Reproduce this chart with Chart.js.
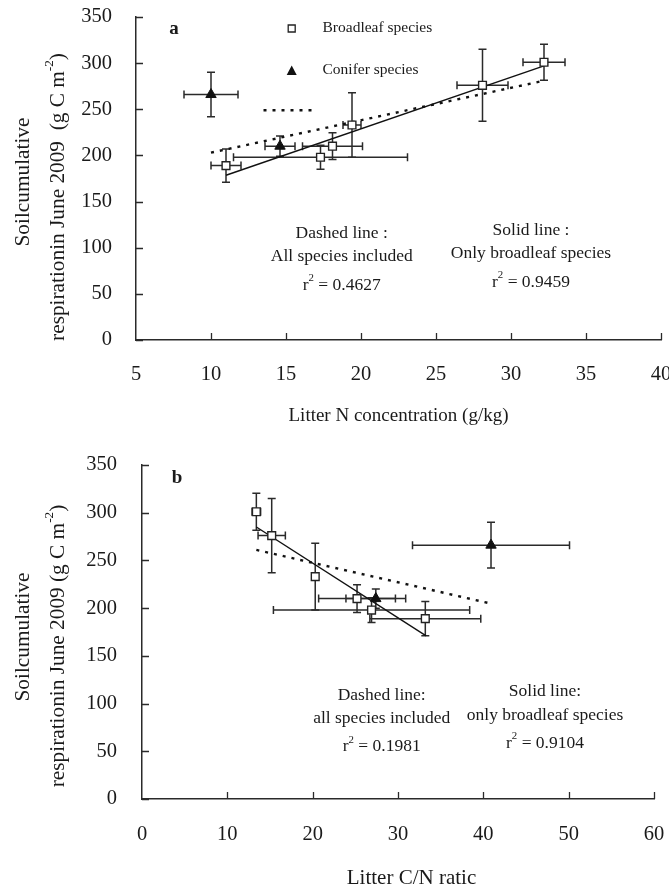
<!DOCTYPE html>
<html><head><meta charset="utf-8">
<script src="https://cdn.jsdelivr.net/npm/chart.js@4/dist/chart.umd.min.js"></script>
<style>html,body{margin:0;padding:0;background:#fff;overflow:hidden;} canvas{position:absolute;left:0;}</style>
</head><body>
<canvas id="ca" width="669" height="445" style="top:0px"></canvas>
<canvas id="cb" width="669" height="446" style="top:445px"></canvas>
<script>
// ---------- data ----------
// Broadleaf species (squares)
const broadleafResp    = [189, 198, 210, 233, 276, 301];
const broadleafRespErr = [18, 13, 14.5, 35, 39, 19.5];
const broadleafN       = [11.0, 17.3, 18.1, 19.4, 28.1, 32.2];
const broadleafNErr    = [1.0, 5.8, 2.0, 0.6, 1.7, 1.4];
const broadleafCN      = [33.2, 26.9, 25.2, 20.3, 15.2, 13.4];
const broadleafCNErr   = [6.5, 11.5, 4.5, 0.3, 1.6, 0.5];
// Conifer species (triangles)
const coniferResp      = [266, 210];
const coniferRespErr   = [24, 11];
const coniferRespErrB  = [24, 10];
const coniferN         = [10.0, 14.6];
const coniferNErr      = [1.8, 1.0];
const coniferCN        = [40.9, 27.4];
const coniferCNErr     = [9.2, 3.5];
// Regression lines (end points)
const fitAllN_x   = [10.0, 32.2];  const fitAllN_y   = [203, 281];
const fitBroadN_x = [11.0, 32.2];  const fitBroadN_y = [178.5, 297];
const strayDot_x  = [13.5, 17.0];  const strayDot_y  = [249, 249];
const fitAllCN_x   = [13.4, 40.8]; const fitAllCN_y   = [261, 205];
const fitBroadCN_x = [13.4, 33.3]; const fitBroadCN_y = [285, 171];
// Axis ticks
const xTicksA = [5, 10, 15, 20, 25, 30, 35, 40];
const xTicksB = [0, 10, 20, 30, 40, 50, 60];
const yTicks  = [0, 50, 100, 150, 200, 250, 300, 350];

// ---------- helpers ----------
const FONT = '"Liberation Serif", "Times New Roman", serif';
const INK = '#1a1a1a';
const pts = (xs, ys) => xs.map((x, i) => ({x, y: ys[i]}));

function drawRich(ctx, segs, x, y, size, align, bold) {
  const f = (s) => (bold ? 'bold ' : '') + s + 'px ' + FONT;
  let w = 0;
  segs.forEach(s => { ctx.font = f(s.sup ? size * 0.62 : size); w += ctx.measureText(s.t).width; });
  let cx = align === 'center' ? x - w / 2 : (align === 'right' ? x - w : x);
  ctx.textAlign = 'left';
  ctx.textBaseline = 'middle';
  segs.forEach(s => {
    ctx.font = f(s.sup ? size * 0.62 : size);
    ctx.fillText(s.t, cx, s.sup ? y - size * 0.38 : y);
    cx += ctx.measureText(s.t).width;
  });
}

const decorPlugin = {
  id: 'decor',
  beforeDatasetsDraw(chart, args, o) {
    const ctx = chart.ctx, xs = chart.scales.x, ys = chart.scales.y;
    ctx.save();
    ctx.strokeStyle = '#2a2a2a';
    ctx.lineWidth = 1.5;
    o.errors.forEach(g => {
      g.x.forEach((xv, i) => {
        const px = xs.getPixelForValue(xv), py = ys.getPixelForValue(g.y[i]);
        const x1 = xs.getPixelForValue(xv - g.xe[i]), x2 = xs.getPixelForValue(xv + g.xe[i]);
        const y1 = ys.getPixelForValue(g.y[i] - g.ye[i]), y2 = ys.getPixelForValue(g.y[i] + g.ye[i]);
        const c = 4;
        ctx.beginPath();
        ctx.moveTo(x1, py); ctx.lineTo(x2, py);
        ctx.moveTo(x1, py - c); ctx.lineTo(x1, py + c);
        ctx.moveTo(x2, py - c); ctx.lineTo(x2, py + c);
        ctx.moveTo(px, y1); ctx.lineTo(px, y2);
        ctx.moveTo(px - c, y1); ctx.lineTo(px + c, y1);
        ctx.moveTo(px - c, y2); ctx.lineTo(px + c, y2);
        ctx.stroke();
      });
    });
    ctx.restore();
  },
  afterDraw(chart, args, o) {
    const ctx = chart.ctx, xs = chart.scales.x, ys = chart.scales.y;
    const a = chart.chartArea;
    ctx.save();
    // inward tick marks
    ctx.strokeStyle = '#2a2a2a';
    ctx.lineWidth = 1.3;
    ctx.beginPath();
    xs.ticks.forEach(t => {
      if (t.value === xs.min) return;
      const px = Math.round(xs.getPixelForValue(t.value)) + 0.5;
      ctx.moveTo(px, a.bottom); ctx.lineTo(px, a.bottom - 7);
    });
    ys.ticks.forEach(t => {
      const py = Math.round(ys.getPixelForValue(t.value)) + 0.5;
      ctx.moveTo(a.left, py); ctx.lineTo(a.left + 7, py);
    });
    ctx.stroke();
    // texts
    ctx.fillStyle = INK;
    o.texts.forEach(t => drawRich(ctx, t.segs, t.x, t.y, t.size, t.align || 'center', t.bold));
    // rotated y title
    o.ytitle.forEach(t => {
      ctx.save();
      ctx.translate(t.x, t.y);
      ctx.rotate(-Math.PI / 2);
      drawRich(ctx, t.segs, 0, 0, t.size, 'center', false);
      ctx.restore();
    });
    // legend markers
    (o.legend || []).forEach(l => {
      ctx.beginPath();
      if (l.kind === 'rect') {
        ctx.fillStyle = '#fff'; ctx.strokeStyle = '#222'; ctx.lineWidth = 1.3;
        ctx.rect(l.x - 3.5, l.y - 3.5, 7, 7);
        ctx.fill(); ctx.stroke();
      } else {
        ctx.fillStyle = '#111';
        ctx.moveTo(l.x, l.y - 5.5); ctx.lineTo(l.x + 5, l.y + 4); ctx.lineTo(l.x - 5, l.y + 4);
        ctx.closePath(); ctx.fill();
      }
    });
    ctx.restore();
  }
};

function makeChart(id, cfg) {
  const H = document.getElementById(id).height;
  return new Chart(document.getElementById(id), {
    type: 'scatter',
    data: { datasets: [
      { data: pts(cfg.bx, broadleafResp), pointStyle: 'rect', pointRadius: 5.5,
        pointBackgroundColor: '#fff', pointBorderColor: '#222', pointBorderWidth: 1.4, order: 0 },
      { data: pts(cfg.cx, coniferResp), pointStyle: 'triangle', pointRadius: 6,
        pointBackgroundColor: '#111', pointBorderColor: '#111', pointBorderWidth: 1, order: 0 },
      ...cfg.lines.map(l => ({ data: pts(l.x, l.y), showLine: true, pointRadius: 0,
        borderColor: '#111', borderWidth: l.dash ? 2.4 : 1.4, borderDash: l.dash || [],
        order: 1 }))
    ]},
    options: {
      responsive: false, animation: false, events: [],
      layout: { padding: { left: 0, top: cfg.top, right: 669 - cfg.right, bottom: 0 } },
      plugins: { legend: { display: false }, tooltip: { enabled: false },
        decor: { errors: cfg.errors, texts: cfg.texts, ytitle: cfg.ytitle, legend: cfg.legend } },
      scales: {
        x: { type: 'linear', min: cfg.xTicks[0], max: cfg.xTicks[cfg.xTicks.length - 1],
          afterBuildTicks: s => { s.ticks = cfg.xTicks.map(v => ({value: v})); },
          afterFit: s => { s.height = H - cfg.bottom; s.paddingLeft = 0; s.paddingRight = 0; },
          grid: { display: false, drawTicks: false },
          border: { display: true, color: '#2a2a2a', width: 1.5 },
          ticks: { color: INK, font: { family: FONT, size: 20.5 }, padding: cfg.xpad, maxRotation: 0 } },
        y: { type: 'linear', min: 0, max: 350,
          afterBuildTicks: s => { s.ticks = yTicks.map(v => ({value: v})); },
          afterFit: s => { s.width = cfg.left; s.paddingTop = 0; s.paddingBottom = 0; },
          grid: { display: false, drawTicks: false },
          border: { display: true, color: '#2a2a2a', width: 1.5 },
          ticks: { color: INK, font: { family: FONT, size: 20.5 }, padding: cfg.ypad } }
      }
    },
    plugins: [decorPlugin]
  });
}

const T = (t) => [{t}];
const R2 = (v) => [{t: 'r'}, {t: '2', sup: true}, {t: ' = ' + v}];

// Panel a
makeChart('ca', {
  left: 136, right: 661, top: 17, bottom: 340, xpad: 22, ypad: 24,
  xTicks: xTicksA, bx: broadleafN, cx: coniferN,
  lines: [
    { x: fitAllN_x, y: fitAllN_y, dash: [3, 6] },
    { x: fitBroadN_x, y: fitBroadN_y },
    { x: strayDot_x, y: strayDot_y, dash: [3, 6] }
  ],
  errors: [
    { x: broadleafN, y: broadleafResp, xe: broadleafNErr, ye: broadleafRespErr },
    { x: coniferN, y: coniferResp, xe: coniferNErr, ye: coniferRespErr }
  ],
  legend: [ { kind: 'rect', x: 291.7, y: 28.5 }, { kind: 'tri', x: 291.7, y: 71 } ],
  texts: [
    { segs: T('a'), x: 174, y: 29, size: 19, bold: true },
    { segs: T('Broadleaf species'), x: 322.5, y: 28, size: 15.5, align: 'left' },
    { segs: T('Conifer species'), x: 322.5, y: 70, size: 15.5, align: 'left' },
    { segs: T('Dashed line :'), x: 341.7, y: 233, size: 17.5 },
    { segs: T('All species included'), x: 341.7, y: 256.5, size: 17.5 },
    { segs: R2('0.4627'), x: 341.7, y: 285, size: 17.5 },
    { segs: T('Solid line :'), x: 531, y: 230, size: 17.5 },
    { segs: T('Only broadleaf species'), x: 531, y: 253, size: 17.5 },
    { segs: R2('0.9459'), x: 531, y: 282, size: 17.5 },
    { segs: T('Litter N concentration (g/kg)'), x: 398.5, y: 416, size: 19 }
  ],
  ytitle: [
    { segs: T('Soilcumulative'), x: 23, y: 182, size: 21.3 },
    { segs: [{t: 'respirationin June 2009  (g C m'}, {t: '-2', sup: true}, {t: ')'}], x: 58, y: 197, size: 21.3 }
  ]
});

// Panel b
makeChart('cb', {
  left: 142, right: 654, top: 20, bottom: 354, xpad: 23, ypad: 25,
  xTicks: xTicksB, bx: broadleafCN, cx: coniferCN,
  lines: [
    { x: fitAllCN_x, y: fitAllCN_y, dash: [3, 6] },
    { x: fitBroadCN_x, y: fitBroadCN_y }
  ],
  errors: [
    { x: broadleafCN, y: broadleafResp, xe: broadleafCNErr, ye: broadleafRespErr },
    { x: coniferCN, y: coniferResp, xe: coniferCNErr, ye: coniferRespErrB }
  ],
  legend: [],
  texts: [
    { segs: T('b'), x: 177, y: 33, size: 19, bold: true },
    { segs: T('Dashed line:'), x: 381.7, y: 250, size: 17.5 },
    { segs: T('all species included'), x: 381.7, y: 273, size: 17.5 },
    { segs: R2('0.1981'), x: 381.7, y: 301.5, size: 17.5 },
    { segs: T('Solid line:'), x: 545, y: 246.5, size: 17.5 },
    { segs: T('only broadleaf species'), x: 545, y: 270, size: 17.5 },
    { segs: R2('0.9104'), x: 545, y: 298, size: 17.5 },
    { segs: T('Litter C/N ratic'), x: 411.5, y: 433, size: 21 }
  ],
  ytitle: [
    { segs: T('Soilcumulative'), x: 23, y: 192, size: 21.3 },
    { segs: [{t: 'respirationin June 2009 (g C m'}, {t: '-2', sup: true}, {t: ')'}], x: 58, y: 201, size: 21.3 }
  ]
});
</script>
</body></html>
